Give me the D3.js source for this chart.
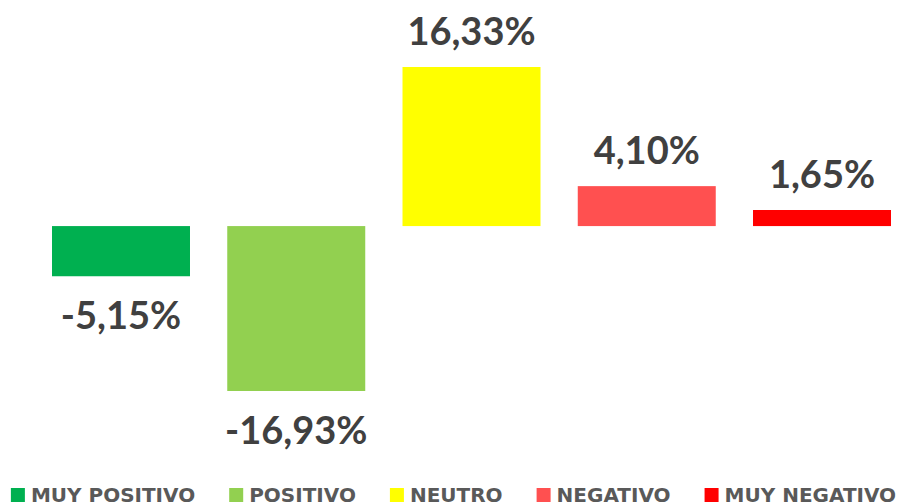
<!DOCTYPE html>
<html>
<head>
<meta charset="utf-8">
<script src="https://cdn.jsdelivr.net/npm/d3@7"></script>
<style>
  html, body { margin: 0; padding: 0; background: #fff; }
  svg { display: block; }
</style>
</head>
<body>
<div id="chart"></div>
<script>
var categories = ["MUY POSITIVO", "POSITIVO", "NEUTRO", "NEGATIVO", "MUY NEGATIVO"];
var values = [-5.15, -16.93, 16.33, 4.10, 1.65];
var colors = ["#00B050", "#92D050", "#FFFF00", "#FF5050", "#FF0000"];

var width = 902, height = 504;

var svg = d3.select("#chart").append("svg")
  .attr("width", width)
  .attr("height", height);

var x = d3.scaleBand()
  .domain(categories)
  .range([52, 891])
  .paddingInner(0.2126)
  .paddingOuter(0);

var y = d3.scaleLinear()
  .domain([-16.93, 16.33])
  .range([391, 67]);

// spanish style: comma decimal, plain hyphen for negatives
var fmt = function(v) {
  return d3.format(".2f")(v).replace(".", ",").replace("\u2212", "-") + "%";
};

// bars
svg.append("g").selectAll("rect")
  .data(values)
  .enter().append("rect")
    .attr("x", function(d, i) { return x(categories[i]); })
    .attr("y", function(d) { return y(Math.max(0, d)); })
    .attr("width", x.bandwidth())
    .attr("height", function(d) { return Math.abs(y(d) - y(0)); })
    .attr("fill", function(d, i) { return colors[i]; });

// labels
svg.append("g").selectAll("text")
  .data(values)
  .enter().append("text")
    .attr("x", function(d, i) { return x(categories[i]) + x.bandwidth() / 2; })
    .attr("y", function(d) { return d >= 0 ? y(d) - 22 : y(d) + 53; })
    .attr("text-anchor", "middle")
    .style("font-family", "Lato, 'Open Sans', sans-serif")
    .style("font-weight", "700")
    .style("font-size", "38px")
    .style("fill", "#404040")
    .text(fmt);

// legend
var legend = svg.append("g");
var items = legend.selectAll("g")
  .data(categories)
  .enter().append("g");

items.append("rect")
  .attr("width", 14)
  .attr("height", 14)
  .attr("y", 488)
  .attr("fill", function(d, i) { return colors[i]; });

items.append("text")
  .attr("x", 20)
  .attr("y", 502)
  .style("font-family", "'DejaVu Sans', sans-serif")
  .style("font-weight", "700")
  .style("font-size", "20px")
  .style("fill", "#595959")
  .text(function(d) { return d; });

var widths = [];
items.each(function() {
  widths.push(this.querySelector("text").getComputedTextLength());
});
var gap = 34;
var total = d3.sum(widths) + widths.length * 20 + (widths.length - 1) * gap;
var startX = (9 + 898) / 2 - total / 2;
var cx = startX;
items.attr("transform", function(d, i) {
  var t = "translate(" + cx + ",0)";
  cx += 20 + widths[i] + gap;
  return t;
});
</script>
</body>
</html>
